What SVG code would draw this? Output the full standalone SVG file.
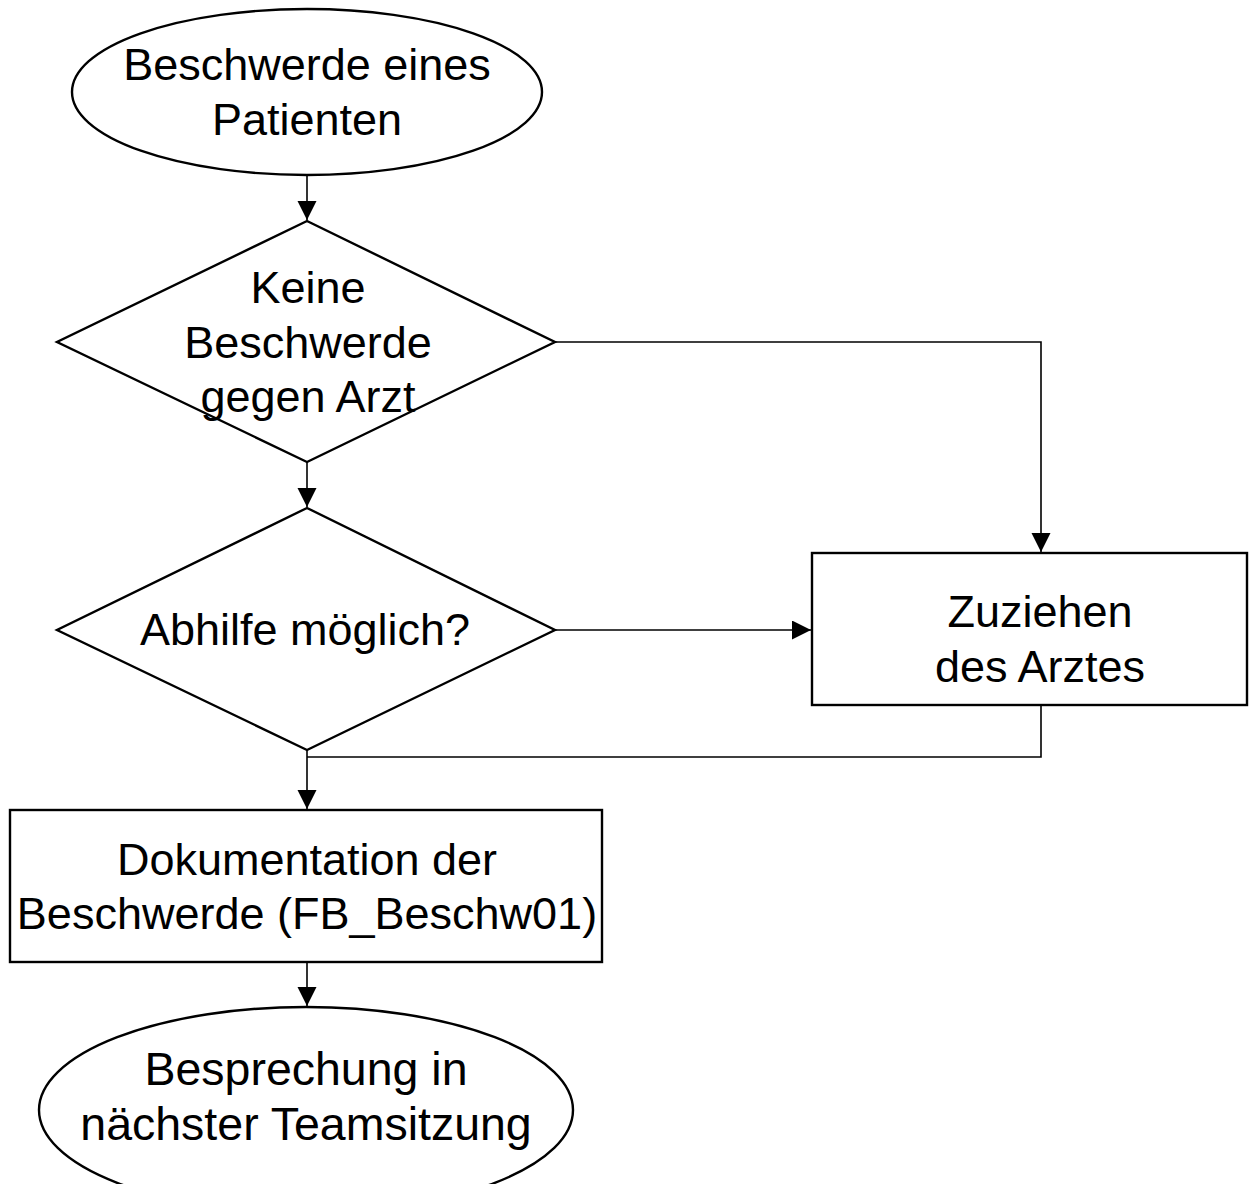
<svg xmlns="http://www.w3.org/2000/svg" width="1249" height="1184" viewBox="0 0 1249 1184">
<style>
.shape{fill:#fff;stroke:#000;stroke-width:2.4}
.conn{fill:none;stroke:#000;stroke-width:1.6}
.t{font-family:"Liberation Sans",Arial,sans-serif;font-size:45px;fill:#000;text-anchor:middle}
.big{font-size:46.5px}
</style>
<defs>
<marker id="arr" markerUnits="userSpaceOnUse" markerWidth="20" markerHeight="20" refX="19" refY="9.5" orient="auto">
<path d="M0,0 L19,9.5 L0,19 z" fill="#000"/>
</marker>
</defs>
<rect width="1249" height="1184" fill="#fff"/>
<g id="connectors">
<path class="conn" d="M307,175 L307,220" marker-end="url(#arr)"/>
<path class="conn" d="M307,462 L307,507" marker-end="url(#arr)"/>
<path class="conn" d="M555,342 L1041,342 L1041,552" marker-end="url(#arr)"/>
<path class="conn" d="M555,630 L811,630" marker-end="url(#arr)"/>
<path class="conn" d="M307,750 L307,809" marker-end="url(#arr)"/>
<path class="conn" d="M1041,705 L1041,757 L307,757"/>
<path class="conn" d="M307,962 L307,1006" marker-end="url(#arr)"/>
</g>
<g id="start">
<ellipse class="shape" cx="307" cy="92" rx="235" ry="83"/>
<text class="t" x="307" y="80">Beschwerde eines</text>
<text class="t" x="307" y="135">Patienten</text>
</g>
<g id="decision1">
<polygon class="shape" points="307,221 555,342 307,462 57,342"/>
<text class="t" x="308" y="303">Keine</text>
<text class="t" x="308" y="358">Beschwerde</text>
<text class="t" x="308" y="412">gegen Arzt</text>
</g>
<g id="decision2">
<polygon class="shape" points="307,508 555,630 307,750 57,630"/>
<text class="t" x="305" y="645">Abhilfe möglich?</text>
</g>
<g id="arzt">
<rect class="shape" x="812" y="553" width="435" height="152"/>
<text class="t" x="1040" y="627">Zuziehen</text>
<text class="t" x="1040" y="682">des Arztes</text>
</g>
<g id="doku">
<rect class="shape" x="10" y="810" width="592" height="152"/>
<text class="t" x="307" y="875">Dokumentation der</text>
<text class="t" x="307" y="929">Beschwerde (FB_Beschw01)</text>
</g>
<g id="end">
<ellipse class="shape" cx="306" cy="1110" rx="267" ry="103"/>
<text class="t big" x="306" y="1085">Besprechung in</text>
<text class="t big" x="306" y="1140">nächster Teamsitzung</text>
</g>
</svg>
